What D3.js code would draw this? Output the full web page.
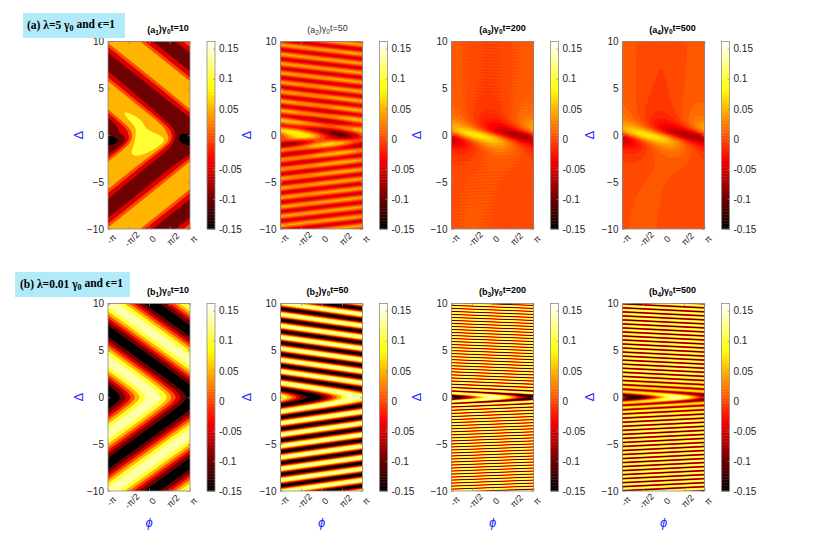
<!DOCTYPE html>
<html>
<head>
<meta charset="utf-8">
<script src="https://cdn.jsdelivr.net/npm/d3@7"></script>
<style>
  body { margin: 0; background: #fff; }
  svg { display: block; font-family: Arial, "Liberation Sans", Helvetica, sans-serif; }
</style>
</head>
<body>
<svg id="chart" width="830" height="551"></svg>
<script>
(function () {
  "use strict";

  // ---- data ----
  const panelTimes = [10, 50, 200, 500];
  const rowTags = ["a", "b"];
  const rowLambda = ["5", "0.01"];
  const phiTicks = [-Math.PI, -Math.PI / 2, 0, Math.PI / 2, Math.PI];
  const phiTickLabels = ["-\u03c0", "-\u03c0/2", "0", "\u03c0/2", "\u03c0"];
  const deltaTicks = [-10, -5, 0, 5, 10];
  const cbarTicks = [-0.15, -0.1, -0.05, 0, 0.05, 0.1, 0.15];
  const cLim = [-0.15, 0.162];

  // row (a): lambda = 5 gamma0, decaying fringes + steady dipole near delta = 0
  const waveAmpA = [0.076, 0.045, 0.002, 0];
  const waveBoostA = [0.028, 0, 0, 0];
  const waveShapeA = [1.8, 0, 0, 0];
  const waveKA = [0.9, 6.3, 19, 0];
  const ridgePhiA = [0.3, -2.0, 0, 0];
  const steadyAmpA = [0.04, 0.055, 0.073, 0.073];
  const offsetA = [-0.01, -0.005, 0.002, 0.002];
  const driftAmpA = [0, 0, 0.005, 0.005];
  const levelStepA = [0.05, 0.025, 0.008, 0.008];
  const levelBaseA = [0.025, 0.0125, 0.004, 0.004];

  // row (b): lambda = 0.01 gamma0, undamped fringes
  const waveAmpB = [0.15, 0.15, 0.145, 0.14];
  const waveKB = [1.0, 5.2, 19.6, 14.7];
  const ridgePhiB = [0.3, 2.6, 0.3, 1.1];
  const fadeB = [0, 0, 0, 0.55];
  const levelStepB = [0.05, 0.05, 0.0125, 0.0125];
  const levelBaseB = [0.025, 0.025, 0.00625, 0.00625];

  const vertexWidth = 0.5;
  const steadyWidth = 1.0;
  const steadyPhase = -1.18;
  const paleCap = 0.135;

  // ---- layout ----
  const W = 830, H = 551;
  const plotX = [108, 280.5, 451.5, 622.5];
  const plotY = [41.5, 303.5];
  const plotW = 82, plotH = 187.5;
  const cbDx = 99, cbW = 8;
  const titleDx = [19, 6, 10, 9];
  const ylabDx = [-25, -29.5, -30.5, -28.5];
  const axisGray = "#8c8c8c";
  const textGray = "#262626";

  function hot(t) {
    t = Math.max(0, Math.min(1, t));
    const r = Math.min(1, t / 0.375);
    const g = Math.max(0, Math.min(1, (t - 0.375) / 0.375));
    const b = Math.max(0, Math.min(1, (t - 0.75) / 0.25));
    return d3.rgb(r * 255, g * 255, b * 255).formatHex();
  }
  const cNorm = d3.scaleLinear().domain(cLim).range([0, 1]).clamp(true);
  const color = (v) => hot(cNorm(v));

  function steady(phi, dl) {
    const w = steadyWidth;
    return (w * w) / (w * w + dl * dl) * Math.cos(phi - steadyPhase + 2 * Math.atan(dl / w));
  }

  function drift(phi, dl) {
    const h = 0.5 * (1 + Math.tanh(dl / 0.6));
    return h * -Math.cos(phi) + (1 - h) * Math.cos(phi - (-0.6 + 0.1 * dl));
  }

  function fringe(phi, dl, k, ridge, shape) {
    const c = Math.cos(phi - ridge + k * (Math.hypot(dl, vertexWidth) - vertexWidth));
    return shape ? Math.tanh(shape * c) / Math.tanh(shape) : c;
  }

  function field(row, col, phi, dl) {
    if (row === 0) {
      const amp = waveAmpA[col] + waveBoostA[col] * Math.exp(-(dl / 2.5) * (dl / 2.5));
      let v = offsetA[col];
      if (amp) v += amp * fringe(phi, dl, waveKA[col], ridgePhiA[col], waveShapeA[col]);
      v += steadyAmpA[col] * steady(phi, dl);
      v += driftAmpA[col] * drift(phi, dl);
      return v;
    }
    const near = Math.exp(-(dl / 1.3) * (dl / 1.3)) * (1 - Math.exp(-(dl / 0.35) * (dl / 0.35)));
    const amp = waveAmpB[col] * (1 - fadeB[col] * near);
    return amp * fringe(phi, dl, waveKB[col], ridgePhiB[col], 0);
  }

  const svg = d3.select("#chart").attr("viewBox", [0, 0, W, H]);
  const defs = svg.append("defs");

  function drawPanel(row, col) {
    const x0 = plotX[col], y0 = plotY[row];
    const x = d3.scaleLinear().domain([-Math.PI, Math.PI]).range([x0, x0 + plotW]);
    const y = d3.scaleLinear().domain([-10, 10]).range([y0 + plotH, y0]);

    const nx = 110;
    const ny = row === 1 && col >= 2 ? 480 : 300;
    const gx = d3.scaleLinear().domain([0, nx]).range(x.domain());
    const gy = d3.scaleLinear().domain([0, ny]).range([10, -10]);
    const values = new Float64Array(nx * ny);
    for (let j = 0; j < ny; j++) {
      const dl = gy(j + 0.5);
      for (let i = 0; i < nx; i++) {
        values[j * nx + i] = field(row, col, gx(i + 0.5), dl);
      }
    }
    const step = row === 0 ? levelStepA[col] : levelStepB[col];
    const base = row === 0 ? levelBaseA[col] : levelBaseB[col];
    const [vmin, vmax] = d3.extent(values);
    const levels = d3.range(-60, 60)
      .map((n) => base + n * step)
      .filter((l) => l > cLim[0] && l < cLim[1] && l <= vmax && l > vmin - step);

    const contours = d3.contours().size([nx, ny]).thresholds(levels)(values);
    const proj = d3.geoTransform({
      point(px, py) { this.stream.point(x(gx(px)), y(gy(py))); },
    });
    const path = d3.geoPath(proj);

    const clipId = `clip-${row}-${col}`;
    defs.append("clipPath").attr("id", clipId)
      .append("rect").attr("x", x0).attr("y", y0).attr("width", plotW).attr("height", plotH);

    const g = svg.append("g").attr("clip-path", `url(#${clipId})`);
    g.append("rect").attr("x", x0).attr("y", y0).attr("width", plotW).attr("height", plotH)
      .attr("fill", color(levels.length ? levels[0] - step / 2 : vmin));
    g.selectAll("path").data(contours).join("path")
      .attr("d", path)
      .attr("fill", (d) => color(Math.min(d.value + step / 2, paleCap)));

    // axes
    const ay = svg.append("g").attr("transform", `translate(${x0},0)`)
      .call(d3.axisLeft(y).tickValues(deltaTicks).tickSize(-2.5).tickPadding(4).tickFormat(d3.format("d")));
    svg.append("g").attr("transform", `translate(${x0 + plotW},0)`)
      .call(d3.axisRight(y).tickValues(deltaTicks).tickSize(-2.5).tickFormat(""));
    const ax = svg.append("g").attr("transform", `translate(0,${y0 + plotH})`)
      .call(d3.axisBottom(x).tickValues(phiTicks).tickSize(-2.5).tickFormat((d, i) => phiTickLabels[i]));
    svg.append("g").attr("transform", `translate(0,${y0})`)
      .call(d3.axisTop(x).tickValues(phiTicks).tickSize(-2.5).tickFormat(""));
    svg.selectAll(".domain").attr("stroke", "none");
    svg.selectAll(".tick line").attr("stroke", axisGray).attr("stroke-width", 0.7);
    ay.selectAll("text").attr("font-size", 10).attr("fill", textGray);
    ax.selectAll("text")
      .attr("font-size", 9).attr("fill", textGray)
      .attr("y", null).attr("dy", "0.35em")
      .attr("transform", "translate(3,10) rotate(-45)")
      .style("text-anchor", "middle");

    svg.append("rect").attr("x", x0).attr("y", y0).attr("width", plotW).attr("height", plotH)
      .attr("fill", "none").attr("stroke", axisGray).attr("stroke-width", 0.8);

    // colorbar
    const cx0 = x0 + cbDx;
    const cy = d3.scaleLinear().domain(cLim).range([y0 + plotH, y0]);
    const nSteps = 64;
    const cbVals = d3.range(nSteps).map((i) => cLim[0] + (i / nSteps) * (cLim[1] - cLim[0]));
    const dv = (cLim[1] - cLim[0]) / nSteps;
    svg.append("g").selectAll("rect").data(cbVals).join("rect")
      .attr("x", cx0).attr("width", cbW)
      .attr("y", (v) => cy(v + dv))
      .attr("height", (v) => cy(v) - cy(v + dv) + 0.4)
      .attr("fill", (v) => color(v + dv / 2));
    const ac = svg.append("g").attr("transform", `translate(${cx0 + cbW},0)`)
      .call(d3.axisRight(cy).tickValues(cbarTicks).tickSize(-2).tickPadding(4)
        .tickFormat((d) => (Math.abs(d) < 1e-9 ? "0" : String(+d.toFixed(2)))));
    ac.select(".domain").attr("stroke", "none");
    ac.selectAll(".tick line").attr("stroke", axisGray).attr("stroke-width", 0.7);
    ac.selectAll("text").attr("font-size", 10).attr("fill", textGray);
    svg.append("rect").attr("x", cx0).attr("y", y0).attr("width", cbW).attr("height", plotH)
      .attr("fill", "none").attr("stroke", axisGray).attr("stroke-width", 0.8);

    // title
    const bold = !(row === 0 && col === 1);
    const t = svg.append("text")
      .attr("x", x0 + plotW / 2 + titleDx[col]).attr("y", y0 - 9)
      .attr("text-anchor", "middle").attr("font-size", 9)
      .attr("font-weight", bold ? "bold" : "normal")
      .attr("fill", bold ? "#000" : "#333");
    t.append("tspan").text(`(${rowTags[row]}`);
    t.append("tspan").attr("dy", "0.35em").attr("font-size", 6.5).text(String(col + 1));
    t.append("tspan").attr("dy", "-0.35em").text(")\u03b3");
    t.append("tspan").attr("dy", "0.35em").attr("font-size", 6.5).text("0");
    t.append("tspan").attr("dy", "-0.35em").text(`t=${panelTimes[col]}`);

    // axis labels
    svg.append("text")
      .attr("transform", `translate(${x0 + ylabDx[col]},${y0 + plotH / 2}) rotate(-90)`)
      .attr("text-anchor", "middle").attr("font-size", 13).attr("fill", "#1f1fff")
      .text("\u0394");
    if (row === 1) {
      svg.append("text")
        .attr("x", x0 + plotW / 2).attr("y", 527)
        .attr("text-anchor", "middle").attr("font-size", 13)
        .attr("font-style", "italic").attr("fill", "#1f1fff")
        .text("\u03d5");
    }
  }

  for (let r = 0; r < 2; r++) {
    for (let c = 0; c < 4; c++) drawPanel(r, c);
  }

  // row captions
  const boxes = [
    { x: 23, y: 13, w: 102, h: 25, tx: 27, ty: 29 },
    { x: 15, y: 272, w: 115, h: 25, tx: 20, ty: 288 },
  ];
  boxes.forEach((b, r) => {
    svg.append("rect").attr("x", b.x).attr("y", b.y).attr("width", b.w).attr("height", b.h)
      .attr("fill", "#b1eaf9");
    const t = svg.append("text").attr("x", b.tx).attr("y", b.ty)
      .attr("font-family", "'Liberation Serif', 'Times New Roman', serif")
      .attr("font-weight", "bold").attr("font-size", 11.5).attr("fill", "#000");
    t.append("tspan").text(`(${rowTags[r]}) \u03bb=${rowLambda[r]} \u03b3`);
    t.append("tspan").attr("dy", "0.3em").attr("font-size", 8).text("0");
    t.append("tspan").attr("dy", "-0.3em").text(" and \u03f5=1");
  });
})();
</script>
</body>
</html>
